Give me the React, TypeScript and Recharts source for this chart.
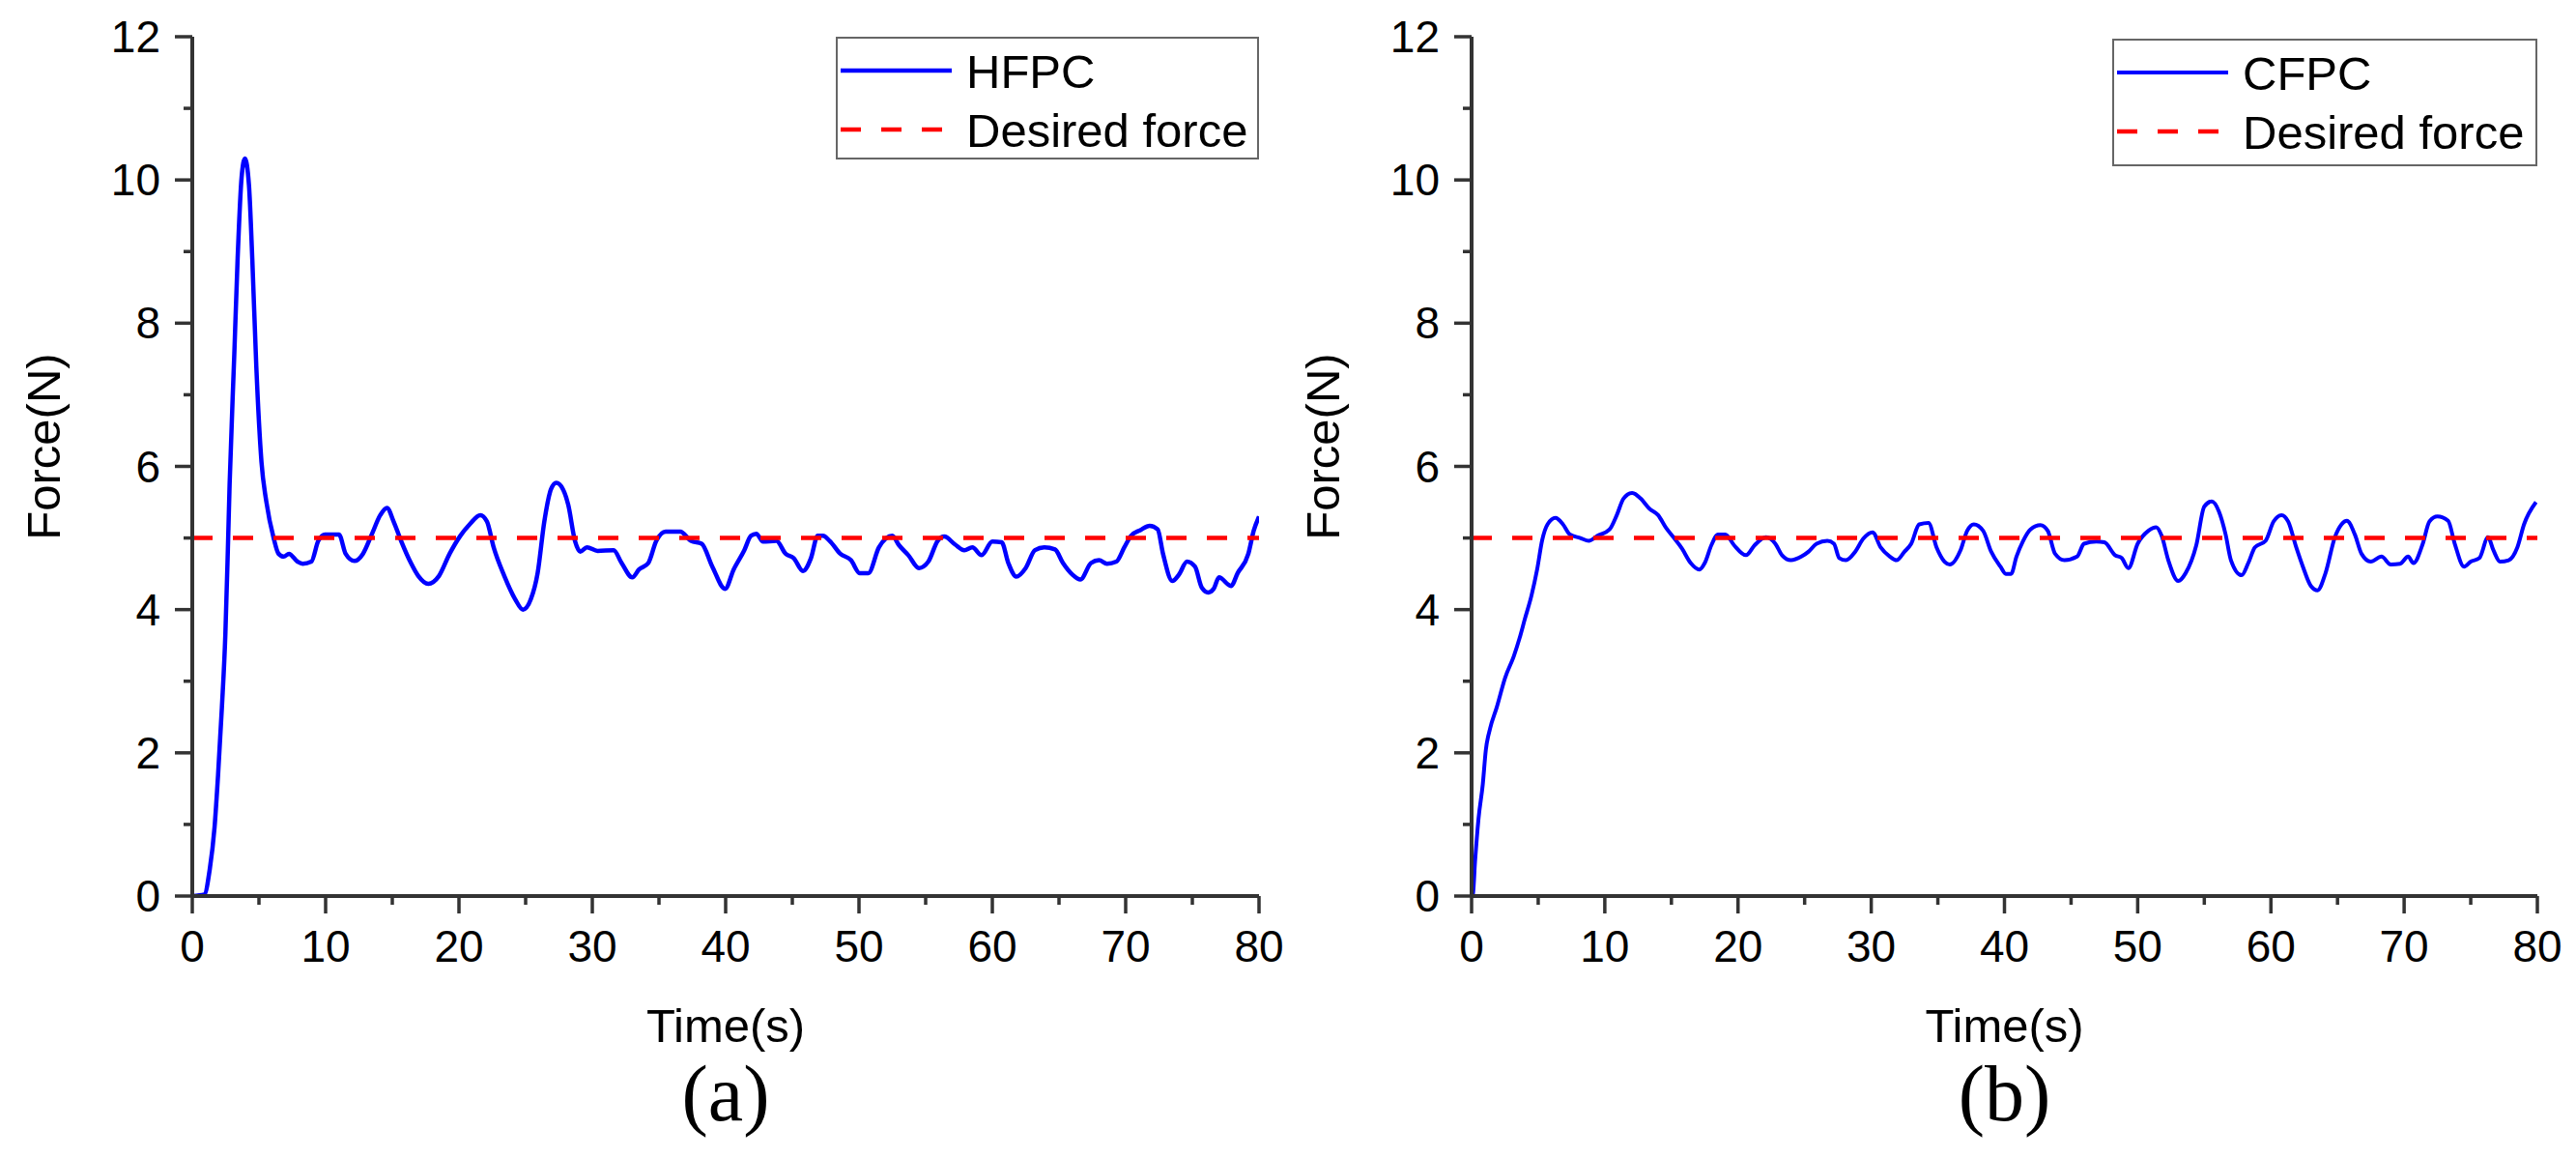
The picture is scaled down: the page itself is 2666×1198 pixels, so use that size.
import React from 'react';
import { LineChart, Line, XAxis, YAxis, Legend, Label } from 'recharts';

// ---------- data ----------
const HFPC_TIME = [
  0, 0.9, 1.3, 1.67, 1.93, 2.22, 2.48, 2.67, 2.8, 3.15, 3.4, 3.7, 3.95, 4.25, 4.5, 4.8, 5.19, 5.56, 6.1, 6.47,
  6.86, 7.25, 7.89, 8.28, 8.93, 9.45, 9.96, 11.0, 11.5, 12.16, 12.8, 13.46, 14.1, 14.6, 15.1, 15.66, 16.4, 16.95,
  17.7, 18.5, 19.3, 20.1, 20.8, 21.6, 22.1, 22.6, 23.4, 24.2, 24.8, 25.4, 25.9, 26.4, 26.9, 27.3, 27.8, 28.2,
  28.7, 29.1, 29.6, 30.4, 31.6, 32.2, 33.0, 33.5, 34.2, 34.8, 35.5, 36.6, 37.4, 38.2, 39.0, 39.96, 40.6, 41.4,
  41.9, 42.3, 42.8, 43.8, 44.5, 45.1, 45.8, 46.4, 46.9, 47.3, 47.8, 48.6, 49.4, 50.05, 50.7, 51.5, 52.5, 53.0,
  53.7, 54.5, 55.2, 55.9, 56.4, 57.2, 57.9, 58.5, 59.2, 60.0, 60.7, 61.2, 61.8, 62.5, 63.2, 63.9, 64.7, 65.3,
  66.0, 66.6, 67.4, 68.0, 68.6, 69.3, 69.9, 70.4, 71.1, 71.8, 72.4, 72.8, 73.5, 74.0, 74.6, 75.2, 75.7, 76.2,
  76.6, 77.0, 77.9, 78.4, 79.2, 79.6, 80.0,
];
const HFPC_FORCE = [
  0, 0.02, 0.36, 0.96, 1.68, 2.63, 3.65, 4.85, 5.75, 7.56, 8.9, 10.04, 10.3, 9.93, 8.9, 7.4, 6.06, 5.5, 5.0, 4.78,
  4.74, 4.78, 4.67, 4.64, 4.67, 4.96, 5.05, 5.05, 4.78, 4.68, 4.78, 5.05, 5.32, 5.42, 5.23, 4.96, 4.65, 4.47,
  4.36, 4.47, 4.78, 5.03, 5.19, 5.32, 5.23, 4.87, 4.47, 4.15, 4.0, 4.15, 4.51, 5.23, 5.68, 5.77, 5.68, 5.46,
  4.96, 4.81, 4.87, 4.82, 4.83, 4.65, 4.45, 4.56, 4.65, 4.96, 5.09, 5.09, 4.96, 4.92, 4.6, 4.29, 4.56, 4.83,
  5.03, 5.06, 4.95, 4.96, 4.78, 4.72, 4.54, 4.72, 5.03, 5.03, 4.96, 4.78, 4.69, 4.51, 4.51, 4.87, 5.03, 4.9,
  4.76, 4.58, 4.67, 4.96, 5.02, 4.91, 4.83, 4.87, 4.76, 4.95, 4.94, 4.65, 4.46, 4.58, 4.83, 4.87, 4.84, 4.65,
  4.49, 4.42, 4.65, 4.69, 4.64, 4.67, 4.87, 5.03, 5.11, 5.17, 5.12, 4.78, 4.4, 4.49, 4.67, 4.6, 4.31, 4.24,
  4.29, 4.45, 4.33, 4.51, 4.78, 5.1, 5.3,
];

const CFPC_TIME = [
  0, 0.1, 0.26, 0.52, 0.84, 1.07, 1.39, 1.88, 2.52, 3.17, 3.6, 4.0, 4.5, 4.92, 5.3, 5.7, 6.3, 6.86, 7.38, 8.16,
  8.8, 9.45, 10.36, 10.9, 11.4, 12.05, 12.7, 13.35, 14.0, 14.6, 15.15, 15.8, 16.45, 17.1, 17.5, 18.0, 18.5,
  19.05, 19.7, 20.6, 21.25, 22.1, 22.8, 23.3, 23.97, 24.75, 25.3, 25.9, 26.7, 27.2, 27.6, 28.1, 28.8, 29.4,
  30.1, 30.7, 31.4, 31.9, 32.5, 33.0, 33.6, 34.3, 34.9, 35.5, 35.9, 36.7, 37.2, 37.7, 38.4, 39.0, 39.7, 40.1,
  40.5, 40.9, 41.4, 41.95, 42.7, 43.25, 43.8, 44.5, 45.45, 45.97, 46.9, 47.5, 48.3, 48.8, 49.3, 50.0, 50.8,
  51.4, 51.8, 52.3, 53.05, 53.6, 54.4, 55.0, 55.56, 56.1, 56.6, 57.0, 57.8, 58.3, 58.8, 59.6, 60.2, 60.8, 61.3,
  61.9, 62.4, 63.0, 63.5, 64.1, 64.8, 65.3, 65.7, 66.3, 66.8, 67.5, 68.3, 69.0, 69.7, 70.3, 70.7, 71.4, 71.9,
  72.5, 73.3, 73.8, 74.5, 75.0, 75.65, 76.3, 76.7, 77.2, 77.85, 78.5, 79.0, 79.9,
];
const CFPC_FORCE = [
  0, 0.03, 0.48, 1.08, 1.56, 2.04, 2.34, 2.63, 3.05, 3.35, 3.6, 3.87, 4.2, 4.56, 4.97, 5.19, 5.28, 5.19, 5.05, 5.0,
  4.96, 5.03, 5.12, 5.32, 5.55, 5.63, 5.55, 5.41, 5.32, 5.14, 5.01, 4.85, 4.65, 4.56, 4.65, 4.9, 5.05,
  5.05, 4.9, 4.76, 4.9, 5.01, 4.92, 4.76, 4.69, 4.74, 4.81, 4.92, 4.96, 4.92, 4.72, 4.69, 4.81, 4.99,
  5.08, 4.87, 4.74, 4.69, 4.81, 4.92, 5.19, 5.21, 4.87, 4.67, 4.63, 4.83, 5.1, 5.19, 5.1, 4.81, 4.6, 4.5,
  4.5, 4.74, 4.96, 5.12, 5.18, 5.1, 4.78, 4.69, 4.74, 4.92, 4.95, 4.94, 4.76, 4.72, 4.58, 4.92, 5.1,
  5.15, 5.03, 4.69, 4.4, 4.51, 4.9, 5.44, 5.51, 5.37, 5.05, 4.69, 4.48, 4.65, 4.87, 4.96, 5.23, 5.32, 5.23,
  4.87, 4.6, 4.33, 4.27, 4.51, 5.01, 5.19, 5.24, 5.05, 4.78, 4.67, 4.74, 4.63, 4.64, 4.74, 4.65, 4.92, 5.23,
  5.3, 5.24, 4.92, 4.6, 4.67, 4.72, 5.01, 4.83, 4.67, 4.69, 4.87, 5.19, 5.5,
];

const DESIRED_TIME = [0, 80];
const DESIRED_FORCE = [5, 5];

const Y_TICKS = [0, 1, 2, 3, 4, 5, 6, 7, 8, 9, 10, 11, 12];
const X_TICKS = [0, 5, 10, 15, 20, 25, 30, 35, 40, 45, 50, 55, 60, 65, 70, 75, 80];

const X_TITLE = 'Time(s)';
const Y_TITLE = 'Force(N)';
const DESIRED_NAME = 'Desired force';

// ---------- styles ----------
const SANS = "'Liberation Sans', Arial, Helvetica, sans-serif";
const SERIF = "'Liberation Serif', 'Times New Roman', serif";
const AXIS = '#333333';
const TEXT = '#000000';
const BLUE = '#0000ff';
const RED = '#ff0000';
const CHART_H = 1198;
const TOP = 38;
const PLOT_BOTTOM = 927;

const toPoints = (ts: number[], vs: number[]) => ts.map((t, i) => ({ t, f: vs[i] }));

const YTick = (props: any) => {
  const { x, y, payload } = props;
  const v = payload.value;
  const major = v % 2 === 0;
  return (
    <g>
      <line x1={x} x2={x - (major ? 18 : 9)} y1={y} y2={y} stroke={AXIS} strokeWidth={3.5} />
      {major && (
        <text x={x - 33} y={y + 16} textAnchor="end" fontSize={46} fontFamily={SANS} fill={TEXT}>
          {v}
        </text>
      )}
    </g>
  );
};

const XTick = (props: any) => {
  const { x, y, payload } = props;
  const v = payload.value;
  const major = v % 10 === 0;
  return (
    <g>
      <line x1={x} x2={x} y1={y} y2={y + (major ? 18 : 9)} stroke={AXIS} strokeWidth={3.5} />
      {major && (
        <text x={x} y={y + 68} textAnchor="middle" fontSize={46} fontFamily={SANS} fill={TEXT}>
          {v}
        </text>
      )}
    </g>
  );
};

type PanelProps = {
  left: number;
  width: number;
  yAxisWidth: number;
  rightMargin: number;
  seriesName: string;
  lineWidth: number;
  times: number[];
  forces: number[];
  legend: { left: number; top: number; width: number; height: number };
  panelLabel: string;
};

const Panel = (p: PanelProps) => {
  const plotW = p.width - p.yAxisWidth - p.rightMargin;
  const cx = p.yAxisWidth + plotW / 2;
  const series = toPoints(p.times, p.forces);
  const desired = toPoints(DESIRED_TIME, DESIRED_FORCE);
  const styles: Record<string, { color: string; dash?: string; w: number }> = {
    [p.seriesName]: { color: BLUE, w: p.lineWidth },
    [DESIRED_NAME]: { color: RED, dash: '21 21', w: 4.5 },
  };
  const order = [p.seriesName, DESIRED_NAME];

  const renderLegend = (lp: any) => {
    const items = (lp.payload || []).slice().sort(
      (a: any, b: any) => order.indexOf(a.value) - order.indexOf(b.value)
    );
    const W = p.legend.width;
    const H = p.legend.height;
    return (
      <div
        style={{
          width: W,
          height: H,
          border: '2.5px solid #666',
          boxSizing: 'border-box',
          background: '#fff',
          position: 'relative',
        }}
      >
        <svg width={W} height={H} style={{ position: 'absolute', left: -2.5, top: -2.5, overflow: 'visible' }}>
          {items.map((it: any, i: number) => {
            const st = styles[it.value] || { color: it.color, w: 4 };
            const cy = 35 + i * 61;
            return (
              <g key={it.value}>
                <line
                  x1={5}
                  x2={120}
                  y1={cy}
                  y2={cy}
                  stroke={st.color}
                  strokeWidth={st.w}
                  strokeDasharray={st.dash}
                />
                <text x={135} y={cy + 17.5} fontSize={49} fontFamily={SANS} fill={TEXT}>
                  {it.value}
                </text>
              </g>
            );
          })}
        </svg>
      </div>
    );
  };

  const renderXTitle = () => (
    <g>
      <text x={cx} y={1078} textAnchor="middle" fontSize={49} fontFamily={SANS} fill={TEXT}>
        {X_TITLE}
      </text>
      <text x={cx} y={1159} textAnchor="middle" fontSize={82} fontFamily={SERIF} fill={TEXT}>
        {p.panelLabel}
      </text>
    </g>
  );

  const yx = p.yAxisWidth - 154;
  const renderYTitle = () => (
    <text
      x={yx}
      y={462}
      transform={`rotate(-90, ${yx}, 462)`}
      textAnchor="middle"
      dominantBaseline="central"
      fontSize={49}
      fontFamily={SANS}
      fill={TEXT}
    >
      {Y_TITLE}
    </text>
  );

  return (
    <div style={{ position: 'absolute', left: p.left, top: 0 }}>
      <LineChart
        width={p.width}
        height={CHART_H}
        margin={{ top: TOP, right: p.rightMargin, bottom: CHART_H - PLOT_BOTTOM - 60, left: 0 }}
      >
        <XAxis
          type="number"
          dataKey="t"
          domain={[0, 80]}
          ticks={X_TICKS}
          interval={0}
          allowDataOverflow
          height={60}
          tickLine={false}
          tickSize={0}
          tickMargin={0}
          axisLine={{ stroke: AXIS, strokeWidth: 4 }}
          tick={<XTick />}
        >
          <Label content={renderXTitle} />
        </XAxis>
        <YAxis
          type="number"
          dataKey="f"
          domain={[0, 12]}
          ticks={Y_TICKS}
          interval={0}
          allowDataOverflow
          width={p.yAxisWidth}
          tickLine={false}
          tickSize={0}
          tickMargin={0}
          axisLine={{ stroke: AXIS, strokeWidth: 4 }}
          tick={<YTick />}
        >
          <Label content={renderYTitle} />
        </YAxis>
        <Legend
          layout="vertical"
          align="center"
          verticalAlign="middle"
          wrapperStyle={{
            left: p.legend.left,
            top: p.legend.top,
            width: p.legend.width,
            height: p.legend.height,
          }}
          content={renderLegend}
        />
        <Line
          data={series}
          dataKey="f"
          name={p.seriesName}
          type="monotone"
          stroke={BLUE}
          strokeWidth={p.lineWidth}
          dot={false}
          activeDot={false}
          isAnimationActive={false}
        />
        <Line
          data={desired}
          dataKey="f"
          name={DESIRED_NAME}
          type="linear"
          stroke={RED}
          strokeWidth={4.5}
          strokeDasharray="21 21"
          dot={false}
          activeDot={false}
          isAnimationActive={false}
        />
      </LineChart>
    </div>
  );
};

export default function App() {
  return (
    <div style={{ position: 'absolute', left: 0, top: 0, width: 2666, height: 1198, background: '#fff' }}>
      <Panel
        left={0}
        width={1330}
        yAxisWidth={199}
        rightMargin={27}
        seriesName="HFPC"
        lineWidth={4.5}
        times={HFPC_TIME}
        forces={HFPC_FORCE}
        legend={{ left: 865, top: 38, width: 438, height: 127 }}
        panelLabel="(a)"
      />
      <Panel
        left={1330}
        width={1336}
        yAxisWidth={193}
        rightMargin={40}
        seriesName="CFPC"
        lineWidth={4}
        times={CFPC_TIME}
        forces={CFPC_FORCE}
        legend={{ left: 856, top: 40, width: 440, height: 132 }}
        panelLabel="(b)"
      />
    </div>
  );
}
